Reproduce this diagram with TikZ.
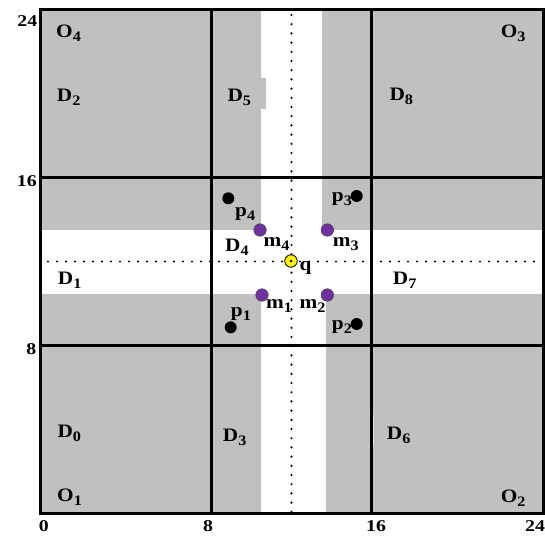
\documentclass[tikz,border=0pt]{standalone}
\usepackage{fontspec}
\setmainfont{Liberation Serif}
\newcommand{\lbl}[2]{#1\raisebox{-0.22em}{\fontsize{14.5}{14.5}\selectfont #2}}
\begin{document}
\begin{tikzpicture}[x=1pt,y=-1pt,
  lab/.style={inner sep=0pt,anchor=base west,xscale=1.12,font=\fontsize{19}{19}\selectfont\bfseries},
  axl/.style={inner sep=0pt,xscale=1.2,font=\fontsize{16.5}{16.5}\selectfont\bfseries},
  grid/.style={line width=3pt},
  pdot/.style={circle,fill=black,minimum size=12pt,inner sep=0pt},
  mdot/.style={circle,fill=mpurple,draw=black!70,line width=0.6pt,minimum size=12.5pt,inner sep=0pt},
  qdot/.style={circle,fill=yellow,draw=black,line width=0.8pt,minimum size=12.5pt,inner sep=0pt},
  tiny/.style={circle,fill=black,minimum size=2.4pt,inner sep=0pt}]
\definecolor{mpurple}{HTML}{7030A0}
\definecolor{regiongray}{HTML}{C0C0C0}
\useasboundingbox (0,0) rectangle (545,535);
% gray background
\fill[regiongray] (40,10) rectangle (543,513);
% white bands
\fill[white] (261,10) rectangle (322,261);
\fill[white] (261,261) rectangle (326,513);
\fill[white] (40,229.5) rectangle (543,293.5);
% notch near D5
\fill[regiongray] (260,78.3) rectangle (265.5,109.3);
% light mark near D6
\draw[white!60!regiongray,line width=0.8pt] (373,415) -- (373,445);
% dotted lines
\foreach \i in {0,...,54} {\node[tiny] at ({48+9*\i},261.5) {};}
\foreach \i in {0,...,54} {\node[tiny] at (291.5,{15+9.2*\i}) {};}
% grid
\draw[grid] (40,10) rectangle (543,513);
\draw[grid] (211,10) -- (211,513);
\draw[grid] (371,10) -- (371,513);
\draw[grid] (40,177) -- (543,177);
\draw[grid] (40,345) -- (543,345);
% points
\node[pdot] (p4) at (228.3,198.3) {};
\node[pdot] (p3) at (356.7,196) {};
\node[pdot] (p1) at (230.7,327.3) {};
\node[pdot] (p2) at (356.7,324) {};
\node[mdot] (m4) at (260,230) {};
\node[mdot] (m3) at (327.3,230) {};
\node[mdot] (m1) at (262,295) {};
\node[mdot] (m2) at (327.3,295) {};
\node[qdot] (q) at (291,261) {};
\node[circle,fill=black,minimum size=2.6pt,inner sep=0pt] (qc) at (q.center) {};
% labels
\node[lab] (lO4) at (56,37.7) {\lbl{O}{4}};
\node[lab] (lD2) at (56.7,101.7) {\lbl{D}{2}};
\node[lab] (lD5) at (227.3,101.7) {\lbl{D}{5}};
\node[lab] (lD8) at (389.3,100.7) {\lbl{D}{8}};
\node[lab] (lO3) at (500.7,37.3) {\lbl{O}{3}};
\node[lab] (lD1) at (57.7,284.3) {\lbl{D}{1}};
\node[lab] (lD7) at (392.7,284.3) {\lbl{D}{7}};
\node[lab] (lD0) at (57.3,437.3) {\lbl{D}{0}};
\node[lab] (lD3) at (222.7,441.7) {\lbl{D}{3}};
\node[lab] (lO1) at (57,501.7) {\lbl{O}{1}};
\node[lab] (lD6) at (386.7,439) {\lbl{D}{6}};
\node[lab] (lO2) at (500.7,502.7) {\lbl{O}{2}};
\node[lab] (lD4) at (225,251.7) {\lbl{D}{4}};
\node[lab] (lp4) at (235,216.7) {\lbl{p}{4}};
\node[lab] (lp3) at (331.7,201.7) {\lbl{p}{3}};
\node[lab] (lp1) at (230.7,316.7) {\lbl{p}{1}};
\node[lab] (lp2) at (331.7,329.3) {\lbl{p}{2}};
\node[lab] (lm4) at (263.3,246.7) {\lbl{m}{4}};
\node[lab] (lm3) at (332.7,246.7) {\lbl{m}{3}};
\node[lab] (lm1) at (266,308.3) {\lbl{m}{1}};
\node[lab] (lm2) at (299.3,308.3) {\lbl{m}{2}};
\node[lab] (lq) at (299.3,270) {q};
% axis labels
\node[axl,anchor=base east] (y24) at (37.5,26.7) {24};
\node[axl,anchor=base east] (y16) at (37,186) {16};
\node[axl,anchor=base east] (y8) at (36.5,354) {8};
\node[axl,anchor=base] (x0) at (43.8,531) {0};
\node[axl,anchor=base] (x8) at (208,531) {8};
\node[axl,anchor=base] (x16) at (376,531) {16};
\node[axl,anchor=base] (x24) at (535,531) {24};
\end{tikzpicture}
\end{document}
